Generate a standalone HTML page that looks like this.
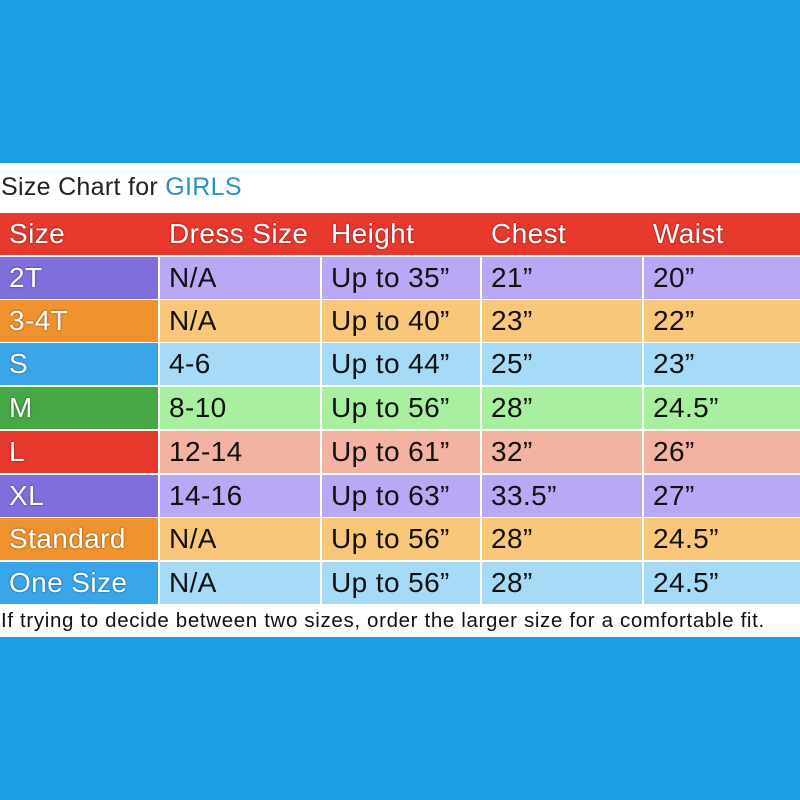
<!DOCTYPE html>
<html><head><style>
body{margin:0;width:800px;height:800px;background:#1a9fe6;position:relative;overflow:hidden;font-family:"Liberation Sans",sans-serif}
#w{position:absolute;left:0;top:163px;width:800px;height:474px;background:#fff}
.t{position:absolute;left:1px;top:173px;font-size:25px;color:#222;letter-spacing:0.3px}
.t span{color:#2a8fc8}
.c{position:absolute;height:41px;line-height:42px;font-size:28px;padding-left:9px;box-sizing:border-box;color:#111;letter-spacing:0.4px}
.w{color:#fff;text-shadow:0 0 2px rgba(0,0,0,.5)}
.f{position:absolute;left:1px;top:609px;font-size:20.5px;color:#111;letter-spacing:0.65px}
</style></head><body>
<div id="w"></div>
<div class="t">Size Chart for <span>GIRLS</span></div>
<div id="g"></div>
<div class="f">If trying to decide between two sizes, order the larger size for a comfortable fit.</div>
<script>
var cols=[[0,158],[160,320],[322,480],[482,642],[644,800]];
var rows=[
["#e8392f","#e8392f",["Size","Dress Size","Height","Chest","Waist"]],
["#7f6fdc","#b9a8f6",["2T","N/A","Up to 35\u201d","21\u201d","20\u201d"]],
["#f0922e","#f8c77a",["3-4T","N/A","Up to 40\u201d","23\u201d","22\u201d"]],
["#3aa6ea","#a6dbf7",["S","4-6","Up to 44\u201d","25\u201d","23\u201d"]],
["#45a845","#a8f0a0",["M","8-10","Up to 56\u201d","28\u201d","24.5\u201d"]],
["#e8392f","#f3b2a2",["L","12-14","Up to 61\u201d","32\u201d","26\u201d"]],
["#7f6fdc","#b9a8f6",["XL","14-16","Up to 63\u201d","33.5\u201d","27\u201d"]],
["#f0922e","#f8c77a",["Standard","N/A","Up to 56\u201d","28\u201d","24.5\u201d"]],
["#3aa6ea","#a6dbf7",["One Size","N/A","Up to 56\u201d","28\u201d","24.5\u201d"]]];
var tops=[213,257,300,343,387,431,475,518,562],h="";
rows.forEach(function(r,i){cols.forEach(function(c,j){
var hdr=i==0,bg=(j==0||hdr)?r[0]:r[1],cl=(j==0||hdr)?"c w":"c";
var wd=hdr?(j<4?cols[j+1][0]-c[0]:800-c[0]):c[1]-c[0];
h+='<div class="'+cl+'" style="left:'+c[0]+'px;top:'+tops[i]+'px;width:'+wd+'px;height:42px;background:'+bg+'">'+r[2][j]+'</div>';});});
document.getElementById("g").innerHTML=h;
</script>
</body></html>
